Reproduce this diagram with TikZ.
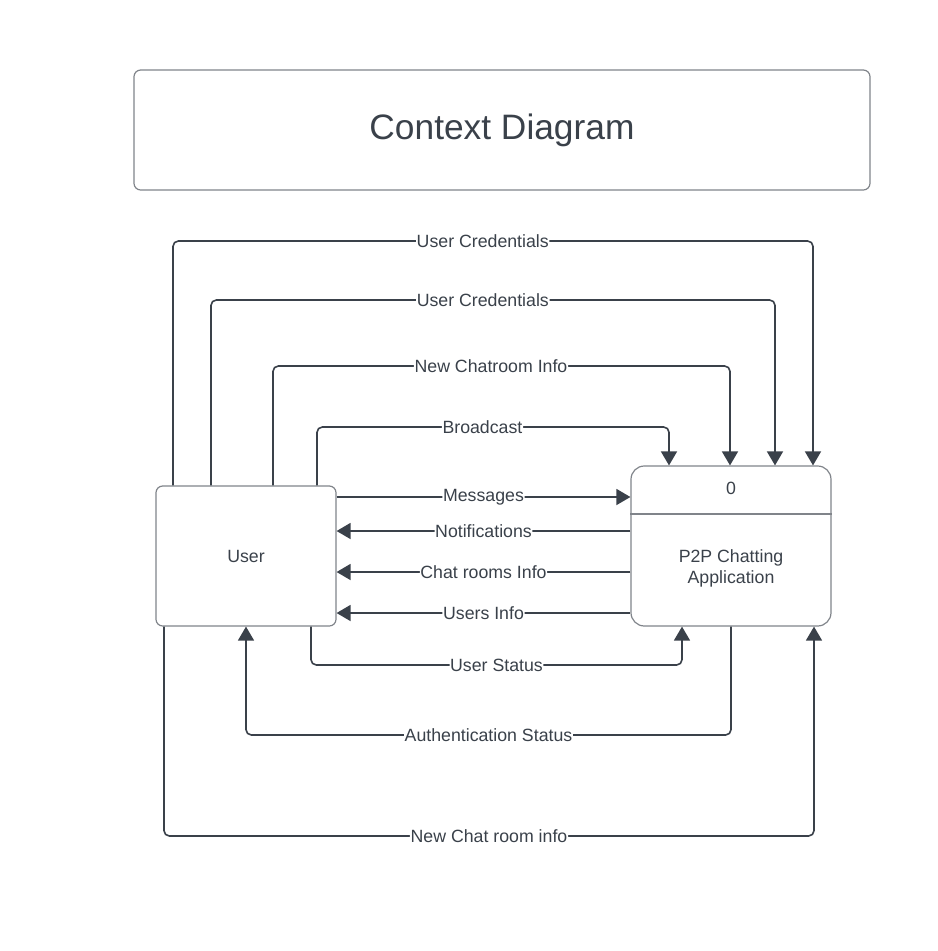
\documentclass[tikz,border=0pt]{standalone}
\usepackage{fontspec}
\setmainfont{Liberation Sans}
\usetikzlibrary{arrows.meta, positioning}
\definecolor{mline}{HTML}{3A414A}
\definecolor{mbord}{HTML}{80848A}
\tikzstyle{titlebox} = [rectangle, rounded corners=5pt, draw=mbord, line width=0.9pt, minimum width=552pt, minimum height=90pt, text=mline, font=\fontsize{26.5}{30}\selectfont]
\tikzstyle{entity} = [rectangle, rounded corners=5pt, draw=mbord, line width=0.9pt, minimum width=135pt, minimum height=105pt, text=mline, font=\fontsize{13.3}{16}\selectfont]
\tikzstyle{process} = [rectangle, rounded corners=10pt, draw=mbord, line width=0.9pt, minimum width=150pt, minimum height=120pt]
\tikzstyle{cable} = [mline, line width=1.2pt, rounded corners=4pt, -{Triangle[length=10.5pt,width=12pt]}]
\tikzstyle{lbl} = [fill=white, inner sep=0.5pt, text=mline, font=\fontsize{13.3}{16}\selectfont]

\begin{document}
\begin{tikzpicture}[x=0.75pt, y=-0.75pt]
  \useasboundingbox (0,0) rectangle (938,951);
  \node (title) [titlebox] at (502,130) {Context Diagram};
  \node (user) [entity] at (246,556) {User};
  \node (app) [process] at (731,546) {};
  \draw [mbord, line width=0.9pt] (app.west |- 0,514) -- (app.east |- 0,514);
  \node (num) [text=mline, font=\fontsize{13.3}{16}\selectfont] at (731,488) {0};
  \node (name) [text=mline, align=center, font=\fontsize{13.3}{15.8}\selectfont] at (731,568) {P2P Chatting\\Application};
  % flows into the process from above
  \draw [cable] (user.north -| 173,0) -- (173,241) -- node[lbl, pos=0.484] {User Credentials} (813,241) -- (app.north -| 813,0);
  \draw [cable] (user.north -| 211,0) -- (211,300) -- node[lbl, pos=0.482] {User Credentials} (775,300) -- (app.north -| 775,0);
  \draw [cable] (user.north -| 273,0) -- (273,366) -- node[lbl, pos=0.477] {New Chatroom Info} (730,366) -- (app.north -| 730,0);
  \draw [cable] (user.north -| 317,0) -- (317,427) -- node[lbl, pos=0.47] {Broadcast} (669,427) -- (app.north -| 669,0);
  % side flows
  \draw [cable] (user.east |- 0,497) -- node[lbl] {Messages} (app.west |- 0,497);
  \draw [cable] (app.west |- 0,531) -- node[lbl] {Notifications} (user.east |- 0,531);
  \draw [cable] (app.west |- 0,572) -- node[lbl] {Chat rooms Info} (user.east |- 0,572);
  \draw [cable] (app.west |- 0,613) -- node[lbl] {Users Info} (user.east |- 0,613);
  % flows below
  \draw [cable] (user.south -| 311,0) -- (311,665) -- node[lbl] {User Status} (682,665) -- (app.south -| 682,0);
  \draw [cable] (app.south) -- (731,735) -- node[lbl] {Authentication Status} (246,735) -- (user.south);
  \draw [cable] (user.south -| 164,0) -- (164,836) -- node[lbl] {New Chat room info} (814,836) -- (app.south -| 814,0);
\end{tikzpicture}
\end{document}
